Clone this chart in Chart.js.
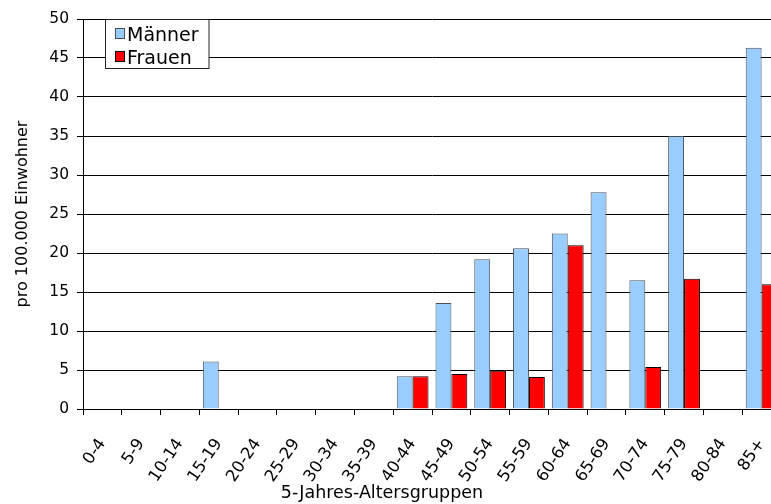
<!DOCTYPE html>
<html>
<head>
<meta charset="utf-8">
<script src="https://cdn.jsdelivr.net/npm/chart.js@4"></script>
<style>
  html, body { margin: 0; padding: 0; background: #fff; overflow: hidden; }
  #wrap { position: absolute; left: 0; top: 0; width: 781px; height: 504px; }
  canvas { display: block; }
</style>
</head>
<body>
<div id="wrap"><canvas id="chart"></canvas></div>
<script>
// Altersgruppen (5-Jahres-Gruppen)
const ageGroups = ['0-4', '5-9', '10-14', '15-19', '20-24', '25-29', '30-34', '35-39', '40-44',
                   '45-49', '50-54', '55-59', '60-64', '65-69', '70-74', '75-79', '80-84', '85+'];
// Raten pro 100.000 Einwohner
const maenner = [0, 0, 0, 6.1, 0, 0, 0, 0, 4.2, 13.6, 19.2, 20.6, 22.5, 27.8, 16.5, 35.0, 0, 46.3];
const frauen  = [0, 0, 0, 0,   0, 0, 0, 0, 4.2, 4.5,  4.9,  4.1,  21.0, 0,    5.4,  16.7, 0, 16.0];
const yRange = { min: 0, max: 50, step: 5 };
const seriesNames = ['Männer', 'Frauen'];
const xTitle = '5-Jahres-Altersgruppen';
const yTitle = 'pro 100.000 Einwohner';

const FONT = '"DejaVu Sans", Arial, sans-serif';

// Legend box in the upper left of the plot
const legendBox = {
  id: 'legendBox',
  afterDraw(chart) {
    const ctx = chart.ctx;
    ctx.save();
    ctx.fillStyle = '#fff';
    ctx.fillRect(105.5, 19.5, 103.5, 49);
    ctx.strokeStyle = '#222';
    ctx.lineWidth = 1;
    ctx.strokeRect(105.5, 19.5, 103.5, 49);
    chart.data.datasets.forEach((ds, i) => {
      const top = Math.round(28 + i * 23.3) + 0.5;
      ctx.fillStyle = ds.backgroundColor;
      ctx.fillRect(115.5, top, 9, 10);
      ctx.strokeStyle = ds.borderColor;
      ctx.strokeRect(115.5, top, 9, 10);
      ctx.fillStyle = '#000';
      ctx.font = '19px ' + FONT;
      ctx.textBaseline = 'alphabetic';
      ctx.textAlign = 'left';
      ctx.fillText(ds.label, 127, 41 + i * 23.3);
    });
    ctx.restore();
  }
};

// x axis title below the rotated category labels
const xAxisTitle = {
  id: 'xAxisTitle',
  afterDraw(chart) {
    const ctx = chart.ctx;
    ctx.save();
    ctx.fillStyle = '#000';
    ctx.font = '17.5px ' + FONT;
    ctx.textAlign = 'center';
    ctx.textBaseline = 'alphabetic';
    ctx.fillText(xTitle, 382, 498);
    ctx.restore();
  }
};

new Chart(document.getElementById('chart'), {
  type: 'bar',
  data: {
    labels: ageGroups,
    datasets: [
      {
        label: seriesNames[0],
        data: maenner,
        backgroundColor: '#99CCFF',
        borderColor: '#4a4f57',
        borderWidth: 1,
        borderSkipped: 'start',
        categoryPercentage: 0.82,
        barPercentage: 1.0
      },
      {
        label: seriesNames[1],
        data: frauen,
        backgroundColor: '#FF0000',
        borderColor: '#000',
        borderWidth: 1,
        borderSkipped: 'start',
        categoryPercentage: 0.82,
        barPercentage: 1.0
      }
    ]
  },
  options: {
    responsive: true,
    maintainAspectRatio: false,
    animation: false,
    devicePixelRatio: 1,
    layout: { padding: { top: 19, right: 0, left: 0, bottom: 0 } },
    plugins: {
      legend: { display: false },
      tooltip: { enabled: false }
    },
    scales: {
      x: {
        grid: { offset: true, drawOnChartArea: false, drawTicks: true, tickLength: 6, color: '#000' },
        border: { display: true, color: '#000', width: 1 },
        ticks: {
          autoSkip: false, minRotation: 56, maxRotation: 56, padding: 20,
          color: '#000', font: { family: FONT, size: 16.5 }
        },
        afterFit(scale) {
          scale.height = 95;
          scale.paddingLeft = 0;
          scale.paddingRight = 0;
        }
      },
      y: {
        min: yRange.min,
        max: yRange.max,
        ticks: { stepSize: yRange.step, padding: 8, color: '#000', font: { family: FONT, size: 15.5 } },
        grid: { color: '#000', lineWidth: 1, drawTicks: true, tickLength: 6 },
        border: { display: true, color: '#000', width: 1 },
        title: {
          display: true, text: yTitle, color: '#000',
          font: { family: FONT, size: 16 },
          padding: { top: 13, bottom: 0 }
        },
        afterFit(scale) { scale.width = 83; }
      }
    }
  },
  plugins: [legendBox, xAxisTitle]
});
</script>
</body>
</html>
